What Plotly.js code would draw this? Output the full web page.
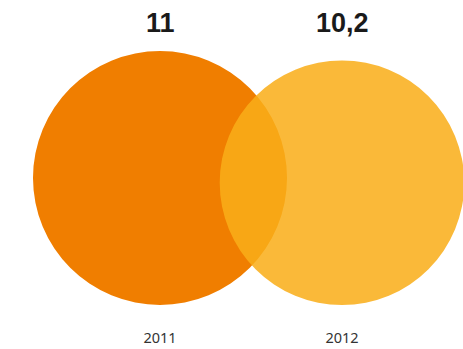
<!DOCTYPE html>
<html><head><meta charset="utf-8">
<script src="https://cdn.plot.ly/plotly-3.0.1.min.js"></script>
<style>html,body{margin:0;padding:0;background:#fff}</style>
</head><body><div id="chart" style="width:463px;height:349px"></div>
<script>
const years = ["2011", "2012"];
const values = [11, 10.2];
const colors = ["#F07E00", "rgba(249,174,24,0.86)"];

const K = 0.2104; // radius units per sqrt(value)
const shapes = values.map((v, i) => {
  const r = K * Math.sqrt(v);
  return {type: "circle", xref: "x", yref: "y", x0: i - r, x1: i + r, y0: 0, y1: 2 * r,
          fillcolor: colors[i], line: {width: 0}, layer: "above"};
});
const annotations = values.map((v, i) => ({
  x: i, xref: "x", y: 0.93, yref: "paper", yanchor: "middle", showarrow: false,
  text: String(v).replace(".", ","),
  font: {family: "Liberation Sans, Arial, sans-serif", size: 27, color: "#1a1a1a", weight: 700}
}));

Plotly.newPlot("chart", [{x: [0, 1], y: [0, 0], mode: "markers", marker: {opacity: 0}, hoverinfo: "skip", showlegend: false}], {
  width: 463, height: 349,
  margin: {l: 0, r: 0, t: 0, b: 22},
  paper_bgcolor: "#fff", plot_bgcolor: "#fff",
  xaxis: {range: [-0.8791, 1.6648], tickvals: [0, 1], ticktext: years, showgrid: false, zeroline: false,
          showline: false, ticks: "", tickfont: {family: "Noto Sans, sans-serif", size: 14.5, color: "#333"}, fixedrange: true},
  yaxis: {range: [-0.1209, 1.6758], visible: false, fixedrange: true},
  shapes: shapes, annotations: annotations, showlegend: false
}, {displayModeBar: false, staticPlot: true});
</script></body></html>
